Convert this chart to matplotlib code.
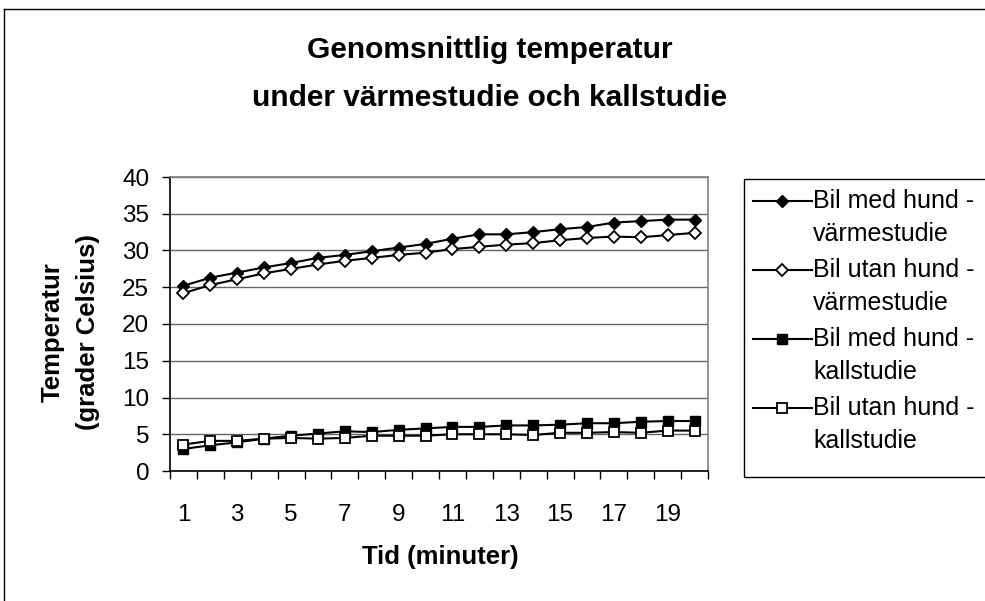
import numpy as np
import matplotlib
matplotlib.use("Agg")
import matplotlib.pyplot as plt
from matplotlib.lines import Line2D
from matplotlib.patches import Rectangle

plt.rcParams['font.family'] = ['Liberation Sans', 'DejaVu Sans']

minutes = list(range(1, 21))
xtick_labels = [1, 3, 5, 7, 9, 11, 13, 15, 17, 19]

warm_dog = [25.2, 26.3, 27.0, 27.7, 28.3, 29.0, 29.4, 29.9, 30.4, 30.9,
            31.6, 32.2, 32.2, 32.5, 32.9, 33.2, 33.8, 34.0, 34.2, 34.2]
warm_nodog = [24.2, 25.3, 26.1, 26.9, 27.5, 28.1, 28.6, 29.0, 29.4, 29.7,
              30.2, 30.5, 30.8, 31.0, 31.4, 31.7, 31.9, 31.8, 32.1, 32.4]
cold_dog = [3.0, 3.5, 3.9, 4.4, 4.8, 5.1, 5.4, 5.3, 5.6, 5.8,
            6.0, 6.0, 6.2, 6.2, 6.3, 6.5, 6.5, 6.7, 6.8, 6.8]
cold_nodog = [3.6, 4.1, 4.1, 4.4, 4.5, 4.4, 4.5, 4.8, 4.8, 4.8,
              5.0, 5.0, 5.0, 4.9, 5.2, 5.2, 5.3, 5.2, 5.5, 5.5]

labels = ["Bil med hund -\nvärmestudie", "Bil utan hund -\nvärmestudie",
          "Bil med hund -\nkallstudie", "Bil utan hund -\nkallstudie"]

W, H = 985, 601
fig = plt.figure(figsize=(W / 100, H / 100), dpi=100)


def fx(px):
    return px / W


def fy(py):
    return 1 - py / H


# outer chart border (left + top visible)
fig.add_artist(Line2D([fx(4), fx(4)], [0, fy(9)], color="black", lw=1))
fig.add_artist(Line2D([fx(4), 1], [fy(9), fy(9)], color="black", lw=1))

ax = fig.add_axes([fx(170), fy(471), 538 / W, 294 / H])

series = [
    (warm_dog, dict(marker="D", ms=6.2, mfc="black", mew=1)),
    (warm_nodog, dict(marker="D", ms=6.2, mfc="white", mew=1.3)),
    (cold_dog, dict(marker="s", ms=7.5, mfc="black", mew=1)),
    (cold_nodog, dict(marker="s", ms=7.5, mfc="white", mew=1.3)),
]
lines = []
for vals, st in series:
    ln, = ax.plot(minutes, vals, color="black", lw=1.5, mec="black", **st)
    lines.append(ln)

ax.set_xlim(0.5, 20.5)
ax.set_ylim(0, 40)
ax.set_yticks(range(0, 41, 5))
ax.yaxis.grid(True, color="#666666", lw=1)
ax.set_axisbelow(True)

# category-style ticks between points, labels on odd minutes
ax.set_xticks(np.arange(0.5, 21, 1))
ax.set_xticklabels([])
ax.set_xticks(xtick_labels, minor=True)
ax.set_xticklabels([str(v) for v in xtick_labels], minor=True)
ax.tick_params(axis="x", which="major", direction="out", length=6, width=1)
ax.tick_params(axis="x", which="minor", length=0, pad=24, labelsize=17.5)
ax.tick_params(axis="y", direction="out", length=6, width=1, labelsize=17.5, pad=9)

for s in ["top", "right"]:
    ax.spines[s].set_color("#808080")
for s in ["left", "bottom"]:
    ax.spines[s].set_color("black")
for s in ax.spines.values():
    s.set_linewidth(1.2)

# axis titles
fig.text(fx(440), fy(557), "Tid (minuter)", ha="center", va="center",
         fontsize=18.5, fontweight="bold")
fig.text(fx(53), fy(332), "Temperatur", ha="center", va="center",
         rotation=90, fontsize=18.5, fontweight="bold")
fig.text(fx(88), fy(332), "(grader Celsius)", ha="center", va="center",
         rotation=90, fontsize=18.5, fontweight="bold")

# chart title
fig.text(fx(490), fy(50), "Genomsnittlig temperatur", ha="center", va="center",
         fontsize=21.5, fontweight="bold")
fig.text(fx(490), fy(98), "under värmestudie och kallstudie", ha="center",
         va="center", fontsize=21.5, fontweight="bold")

# legend (Excel style: handle aligned with first text line)
fig.add_artist(Rectangle((fx(744), fy(477)), fx(1000) - fx(744), fy(179) - fy(477),
                         transform=fig.transFigure, fill=False, ec="black", lw=1))
first_rows = [201, 270, 339, 408]
for ln, lab, yrow in zip(lines, labels, first_rows):
    fig.add_artist(Line2D([fx(753), fx(812)], [fy(yrow), fy(yrow)], color="black",
                          lw=1.5))
    fig.add_artist(Line2D([fx(782)], [fy(yrow)], marker=ln.get_marker(),
                          ms=ln.get_markersize(), mfc=ln.get_markerfacecolor(),
                          mec="black", mew=ln.get_markeredgewidth(), lw=0))
    top, bottom = lab.split("\n")
    fig.text(fx(813), fy(yrow), top, ha="left", va="center", fontsize=18)
    fig.text(fx(813), fy(yrow + 33), bottom, ha="left", va="center", fontsize=18)

fig.savefig("out.png", dpi=100)
